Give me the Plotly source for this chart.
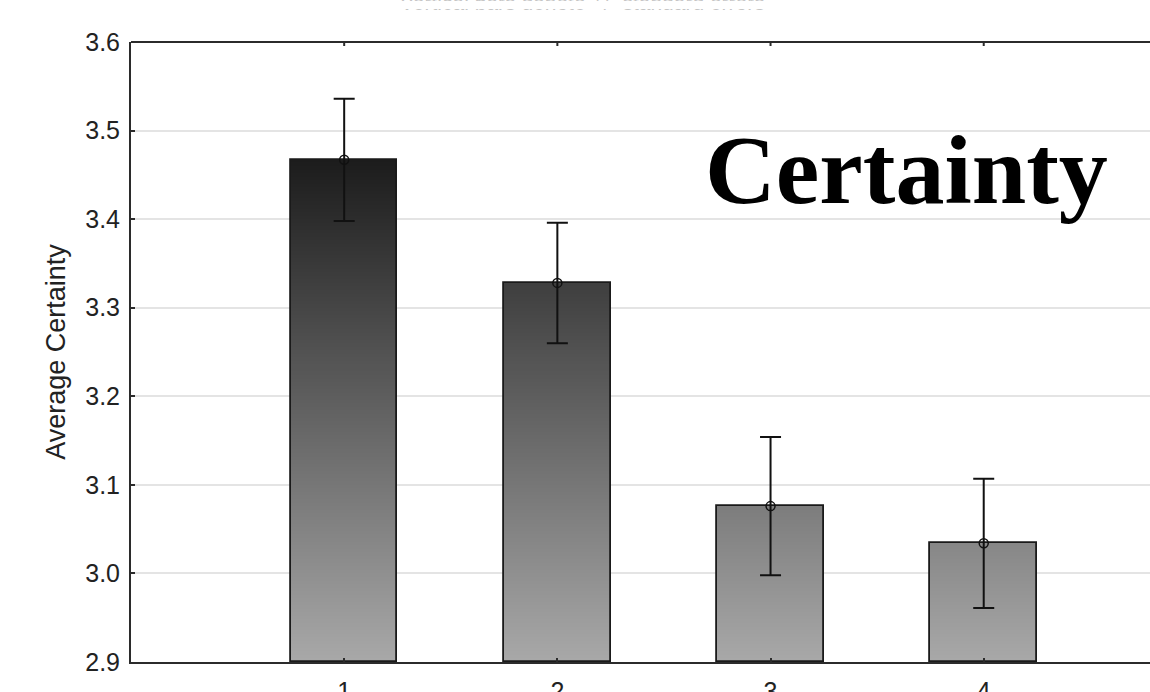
import numpy as np
import plotly.graph_objects as go

# Group means of the certainty rating with +/- one standard error
groups = [1, 2, 3, 4]
group_labels = ["1", "2", "3", "4"]
mean_certainty = [3.467, 3.328, 3.076, 3.034]
std_error = [0.069, 0.068, 0.078, 0.073]

y_floor = 2.9
y_top = 3.6
y_ticks = [2.9, 3.0, 3.1, 3.2, 3.3, 3.4, 3.5, 3.6]

BAR_WIDTH = 0.5
SANS = "Liberation Sans, Arial, sans-serif"
AXIS_COLOR = "#2b2b2b"


def shade(v):
    """Vertical fill: light gray at the axis floor, near black high up."""
    level = 168 - (v - y_floor) * 247
    level = int(round(max(0, min(255, level))))
    return f"rgb({level},{level},{level})"


# Build each bar from thin stacked slices so the fill darkens with height
step = 0.004
seg_x, seg_base, seg_h, seg_col = [], [], [], []
for g, m in zip(groups, mean_certainty):
    lo = y_floor
    while lo < m - 1e-9:
        hi = min(lo + step * 1.6, m)
        seg_x.append(g)
        seg_base.append(lo)
        seg_h.append(hi - lo)
        seg_col.append(shade(lo + step / 2))
        lo += step

fig = go.Figure()

fig.add_trace(go.Bar(
    x=seg_x, y=seg_h, base=seg_base, width=BAR_WIDTH,
    marker=dict(color=seg_col, line=dict(width=0)),
    hoverinfo="skip", showlegend=False,
))

# Bar outlines
fig.add_trace(go.Bar(
    x=groups, y=[m - y_floor for m in mean_certainty], base=y_floor,
    width=BAR_WIDTH,
    marker=dict(color="rgba(0,0,0,0)", line=dict(color="#1a1a1a", width=1.8)),
    showlegend=False,
))

# Means with standard-error whiskers
fig.add_trace(go.Scatter(
    x=groups, y=mean_certainty, mode="markers",
    marker=dict(symbol="circle-open", size=9, color="#111111",
                line=dict(width=1.5, color="#111111")),
    error_y=dict(type="data", array=std_error, visible=True,
                 color="#111111", thickness=2, width=10.5),
    showlegend=False,
))

# Top frame line with small downward ticks at each group
top_shapes = [dict(type="line", xref="paper", yref="paper",
                   x0=0, x1=1, y0=1, y1=1,
                   line=dict(color=AXIS_COLOR, width=2))]
for g in groups:
    top_shapes.append(dict(type="line", xref="x", yref="paper",
                           x0=g, x1=g, y0=1, y1=1 - 4 / 620,
                           line=dict(color=AXIS_COLOR, width=2)))

fig.update_layout(
    width=1150, height=692,
    margin=dict(l=131, r=0, t=42, b=30),
    paper_bgcolor="white", plot_bgcolor="white",
    barmode="overlay",
    bargap=0,
    font=dict(family=SANS, color="#222222"),
    shapes=top_shapes,
    xaxis=dict(
        range=[0, 4.78],
        tickvals=groups, ticktext=group_labels,
        tickfont=dict(size=25, family=SANS, color="#222222"),
        showline=True, linecolor=AXIS_COLOR, linewidth=2, mirror=False,
        ticks="inside", ticklen=4, tickwidth=2, tickcolor=AXIS_COLOR,
        showgrid=False, zeroline=False,
        ticklabelstandoff=6,
        automargin=False,
    ),
    yaxis=dict(
        range=[y_floor, y_top],
        tickvals=y_ticks, tickformat=".1f",
        tickfont=dict(size=25, family=SANS, color="#222222"),
        showline=True, linecolor=AXIS_COLOR, linewidth=2,
        ticks="inside", ticklen=4, tickwidth=2, tickcolor=AXIS_COLOR,
        showgrid=True, gridcolor="#e4e4e4", gridwidth=2,
        zeroline=False,
        ticklabelstandoff=4,
        automargin=False,
        title=dict(text="Average Certainty",
                   font=dict(size=27, family=SANS, color="#222222"),
                   standoff=12),
    ),
    annotations=[
        dict(text="Certainty", xref="paper", yref="paper",
             x=0.7615, y=0.703, xanchor="center", yanchor="bottom",
             showarrow=False,
             font=dict(family="Liberation Serif, Times New Roman, serif",
                       size=98, color="black", weight="bold")),
        dict(text="Vertical bars denote +/- standard errors",
             xref="paper", yref="paper", x=0.4426, y=1.0418,
             xanchor="center", yanchor="bottom", showarrow=False,
             font=dict(family=SANS, size=21, color="#8a8a8a")),
        # white band across the top edge of the page
        dict(text=" ", xref="paper", yref="paper", x=0.4426,
             y=662 / 620, xanchor="center", yanchor="top",
             width=560, height=8, borderpad=0, showarrow=False,
             bgcolor="white"),
    ],
)

fig.write_html("out.html")
